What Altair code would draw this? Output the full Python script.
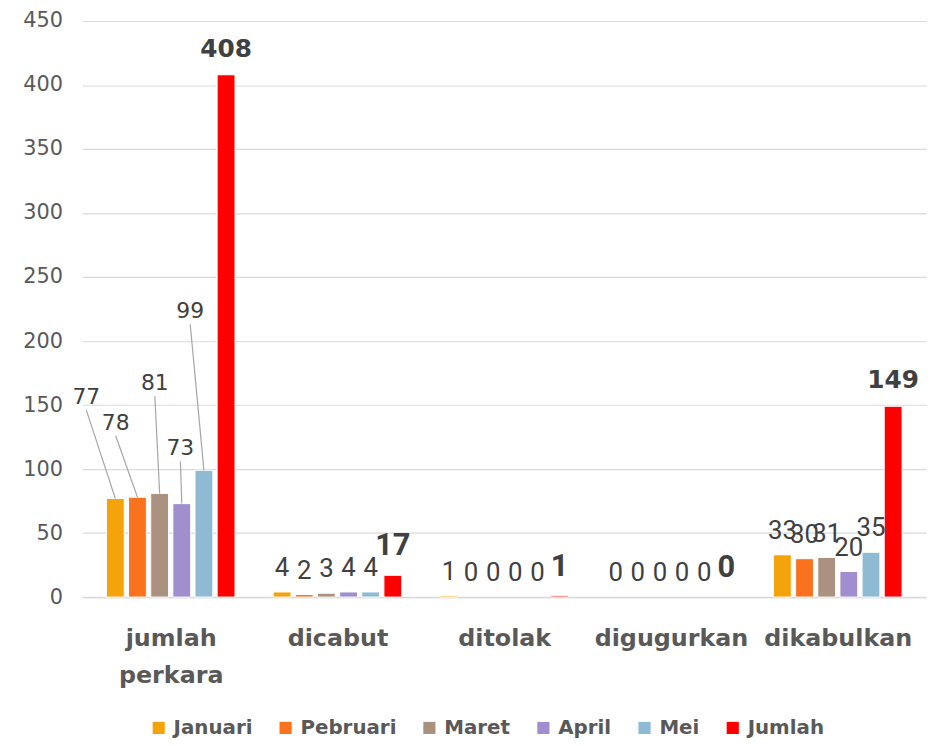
import altair as alt
import pandas as pd

categories = ["jumlah perkara", "dicabut", "ditolak", "digugurkan", "dikabulkan"]
months = ["Januari", "Pebruari", "Maret", "April", "Mei", "Jumlah"]
colors = ["#F5A30A", "#FA721E", "#AB9180", "#A18ECF", "#8FBAD3", "#FF0000"]

januari = [77, 4, 1, 0, 33]
pebruari = [78, 2, 0, 0, 30]
maret = [81, 3, 0, 0, 31]
april = [73, 4, 0, 0, 20]
mei = [99, 4, 0, 0, 35]
jumlah = [408, 17, 1, 0, 149]

# anchors of the leader-line labels in the "jumlah perkara" group (axis units)
leader_x = [-0.006, 0.17, 0.405, 0.558, 0.617]
leader_y = [146, 126, 157, 106, 213]

series = [januari, pebruari, maret, april, mei, jumlah]
rows = []
for mi, (m, vals) in enumerate(zip(months, series)):
    for ci, c in enumerate(categories):
        rows.append({"category": c, "ci": ci, "month": m, "mi": mi, "value": vals[ci]})
df = pd.DataFrame(rows)

lead = pd.DataFrame({
    "month": months[:5],
    "mi": list(range(5)),
    "ci": [0] * 5,
    "value": [s[0] for s in series[:5]],
    "lx": leader_x,
    "ly": leader_y,
})

STEP = 0.1328
xpos_expr = f"datum.ci + 0.5 + (datum.mi - 2.5) * {STEP}"

xscale = alt.Scale(domain=[0, 5], nice=False, zero=False)
yscale = alt.Scale(domain=[0, 450], nice=False)

label_expr = "split(" + str(categories).replace('"', "'") + "[floor(datum.value)], ' ')"

x_axis = alt.Axis(
    values=[0.5, 1.5, 2.5, 3.5, 4.5], labelExpr=label_expr, title=None, grid=False,
    ticks=False, domainColor="#D9D9D9", domainWidth=1.5, labelFont="DejaVu Sans",
    labelFontWeight="bold", labelFontSize=24, labelColor="#595959", labelPadding=30,
    labelLineHeight=37, labelBaseline="top",
)
y_axis = alt.Axis(
    values=list(range(0, 451, 50)), title=None, domain=False, ticks=False,
    gridColor="#D9D9D9", gridWidth=1.2, labelFont="DejaVu Sans", labelFontSize=21,
    labelColor="#595959", labelPadding=20,
)

base = alt.Chart(df).transform_calculate(xpos=xpos_expr)

bars = base.transform_filter("datum.value > 0").mark_bar(
    size=18, stroke="white", strokeWidth=1
).encode(
    x=alt.X("xpos:Q", scale=xscale, axis=x_axis),
    y=alt.Y("value:Q", scale=yscale, axis=y_axis),
    color=alt.Color(
        "month:N",
        scale=alt.Scale(domain=months, range=colors),
        sort=months,
        legend=alt.Legend(
            orient="none", legendX=67, legendY=703, direction="horizontal", columns=6,
            title=None, symbolType="square", symbolSize=150, symbolStrokeWidth=0,
            labelFont="DejaVu Sans", labelFontWeight="bold", labelFontSize=20,
            labelColor="#595959", columnPadding=23, labelOffset=5,
        ),
    ),
)

small_labels = base.transform_filter(
    "datum.ci > 0 && datum.month != 'Jumlah'"
).mark_text(
    font="Roboto", fontSize=26, baseline="bottom", dy=-11, color="#404040",
).encode(x=alt.X("xpos:Q", scale=xscale), y=alt.Y("value:Q", scale=yscale),
         text="value:Q")

total_narrow = base.transform_filter(
    "datum.month == 'Jumlah' && datum.ci >= 1 && datum.ci <= 3"
).mark_text(
    font="Roboto", fontSize=31, fontWeight="bold", baseline="bottom", dy=-13,
    color="#404040",
).encode(x=alt.X("xpos:Q", scale=xscale), y=alt.Y("value:Q", scale=yscale),
         text="value:Q")

total_wide = base.transform_filter(
    "datum.month == 'Jumlah' && (datum.ci == 0 || datum.ci == 4)"
).mark_text(
    font="DejaVu Sans", fontSize=25, fontWeight="bold", baseline="bottom", dy=-13,
    color="#404040",
).encode(x=alt.X("xpos:Q", scale=xscale), y=alt.Y("value:Q", scale=yscale),
         text="value:Q")

lead_base = alt.Chart(lead).transform_calculate(xpos=xpos_expr)

leader_lines = lead_base.mark_rule(color="#A6A6A6", strokeWidth=1.2).encode(
    x=alt.X("lx:Q", scale=xscale), y=alt.Y("ly:Q", scale=yscale),
    x2="xpos:Q", y2="value:Q",
)
leader_text = lead_base.mark_text(
    font="DejaVu Sans", fontSize=22, baseline="bottom", dy=-1, color="#404040",
).encode(x=alt.X("lx:Q", scale=xscale), y=alt.Y("ly:Q", scale=yscale), text="value:Q")

chart = alt.layer(
    bars, leader_lines, small_labels, total_narrow, total_wide, leader_text
).properties(
    width=851, height=581,
    autosize=alt.AutoSizeParams(type="none"),
    padding={"left": 75, "top": 10, "right": 12, "bottom": 140},
).configure_view(stroke=None)

chart.save("out.html", embed_options={"renderer": "svg", "actions": False})
